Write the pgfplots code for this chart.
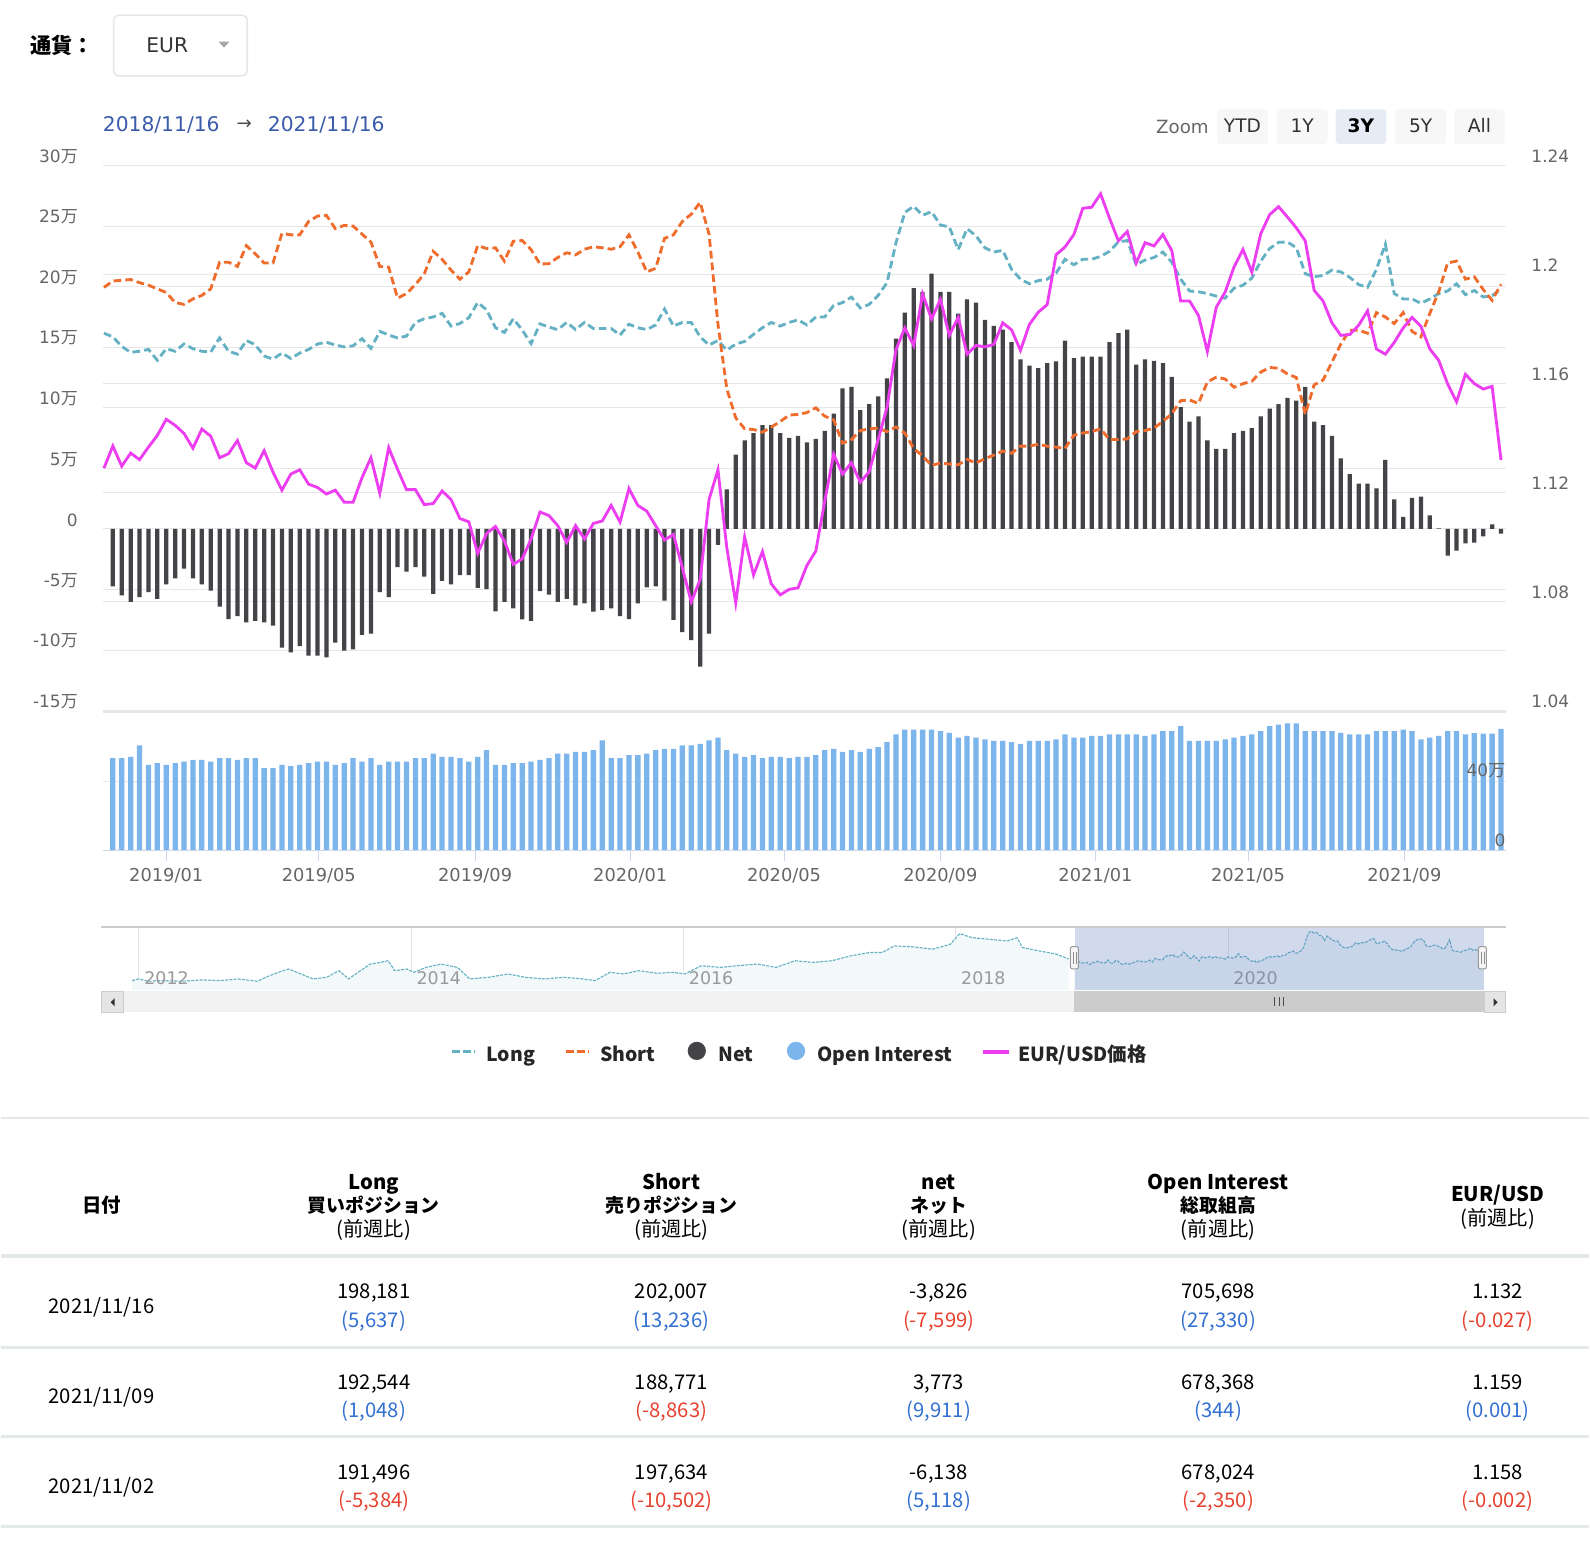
\documentclass[border=0pt]{standalone}
\usepackage{fontspec}
\setmainfont{DejaVu Sans}
\newfontfamily\cjk{Noto Sans CJK JP}
\usepackage{pgfplots}
\usepackage{pgfplotstable}
\pgfplotsset{compat=1.18}

\definecolor{gridc}{HTML}{E6E6E6}
\definecolor{txtgray}{HTML}{666666}
\definecolor{netc}{HTML}{434348}
\definecolor{oic}{HTML}{7CB5EC}
\definecolor{longc}{HTML}{63B1C3}
\definecolor{shortc}{HTML}{EF6C2C}
\definecolor{eurc}{HTML}{EC3DF0}
\definecolor{datec}{HTML}{3B5CAB}
\definecolor{axisc}{HTML}{CCD6EB}
\definecolor{navmask}{HTML}{6685C2}
\definecolor{navfill}{HTML}{F3F8FA}
\definecolor{tabline}{HTML}{E3E8EA}
\definecolor{selbg}{HTML}{E6EBF5}
\definecolor{upc}{HTML}{3270D2}
\definecolor{downc}{HTML}{E8412F}

\newcommand\fs[1]{\fontsize{#1}{#1}\selectfont}
\newcommand\man{{\cjk 万}}

% weekly COT data, d = days after 2018/11/16
\pgfplotstableread{
d long short net oi eur
-3 161600 199400 nan nan 1.1290
4 158600 204700 -47300 535000 1.1371
11 150600 205300 -54800 535000 1.1297
18 145800 205900 -60100 543000 1.1345
25 146700 203300 -56200 609000 1.1321
32 148200 201200 -52100 497000 1.1367
39 139300 198200 -57700 506000 1.1410
46 148800 195200 -45800 497000 1.1469
53 146700 186900 -40800 506000 1.1447
60 152700 185400 -32700 516000 1.1417
67 148800 189900 -40800 526000 1.1363
74 146700 192800 -45800 526000 1.1433
81 146100 198200 -50900 516000 1.1407
88 157700 220200 -64000 535000 1.1328
95 146700 220200 -74400 535000 1.1343
102 144300 216700 -72000 526000 1.1391
109 155600 233900 -77100 535000 1.1310
116 152100 227100 -75900 535000 1.1290
123 142800 219600 -77100 477000 1.1354
130 140200 219600 -79800 477000 1.1275
137 145200 244000 -97900 497000 1.1209
144 140800 242800 -101800 489000 1.1268
151 145200 242800 -96700 497000 1.1284
158 148200 253900 -104500 506000 1.1231
165 152700 258300 -104500 516000 1.1219
172 154200 258900 -106000 516000 1.1195
179 151800 247900 -93800 497000 1.1209
186 150300 250600 -100300 506000 1.1165
193 151200 250000 -99400 535000 1.1165
200 157100 243400 -87500 516000 1.1255
207 149100 236900 -86300 535000 1.1328
214 163100 216700 -52100 497000 1.1198
221 160100 216100 -56200 516000 1.1365
228 157700 190500 -31500 516000 1.1285
235 159200 194300 -35100 516000 1.1211
242 170500 201800 -31500 535000 1.1211
249 173500 210700 -39300 535000 1.1156
256 175000 229200 -53600 562000 1.1160
263 178000 222600 -42900 543000 1.1206
270 167500 213700 -45800 543000 1.1175
277 169600 206200 -38100 535000 1.1105
284 174400 212200 -38100 516000 1.1093
291 186900 233900 -48500 543000 1.0977
298 180900 231500 -49700 582000 1.1050
305 166100 232100 -67900 497000 1.1076
312 162200 221100 -60100 497000 1.1023
319 173500 237500 -65500 506000 1.0937
326 164300 238100 -74700 506000 1.0957
333 153000 230600 -75900 516000 1.1030
340 169300 218700 -51200 526000 1.1129
347 166700 219000 -54200 535000 1.1116
354 164600 224100 -60100 562000 1.1079
361 170500 228000 -57700 562000 1.1017
368 164600 226200 -63100 572000 1.1079
375 170500 230900 -61300 572000 1.1030
382 165500 233000 -68200 582000 1.1087
389 165500 232100 -67000 638000 1.1096
396 165500 230900 -65500 535000 1.1153
403 160100 233000 -72000 535000 1.1092
410 169000 242800 -74400 553000 1.1215
417 166100 228600 -61300 553000 1.1153
424 164600 212200 -48200 562000 1.1132
431 168400 215200 -47300 582000 1.1079
438 181500 239900 -59200 589000 1.1026
445 167500 242800 -75000 589000 1.1047
452 170500 253900 -85100 609000 1.0924
459 170500 259800 -91700 609000 1.0799
466 158600 269600 -113700 618000 1.0881
473 151800 243400 -86300 638000 1.1175
480 155600 169000 -13100 655000 1.1284
487 147600 115500 32700 582000 1.0997
494 152700 91700 61300 562000 1.0795
501 154800 82700 73200 543000 1.1037
508 160700 82100 79200 553000 1.0898
515 166100 79800 85700 535000 1.0984
522 170500 84200 85700 543000 1.0865
529 167500 88700 79200 543000 1.0825
536 170500 94000 75300 535000 1.0845
543 172600 94600 76800 543000 1.0851
550 168400 96100 71400 543000 1.0933
557 175000 100000 74400 553000 1.0986
564 175000 93100 81000 582000 1.1169
571 184500 90200 95200 589000 1.1341
578 186900 70800 116100 572000 1.1268
585 191400 73800 117300 582000 1.1310
592 182400 81200 98200 572000 1.1238
599 185400 82700 103000 589000 1.1277
606 192800 83300 109500 599000 1.1394
613 203300 80400 124400 628000 1.1513
620 236000 84200 157100 674000 1.1724
627 261300 79200 178600 701000 1.1804
634 266400 66400 198800 701000 1.1740
641 258900 60400 195800 701000 1.1929
648 261900 52400 210700 701000 1.1837
655 250900 54500 195800 692000 1.1909
662 249400 53600 195800 682000 1.1777
669 230600 53000 177700 655000 1.1843
676 247900 57400 189600 665000 1.1708
683 241900 54500 186900 655000 1.1740
690 232100 58000 172600 645000 1.1735
697 228600 61000 167600 636000 1.1744
704 230000 64300 164600 636000 1.1823
711 214300 62500 154200 628000 1.1797
718 206200 68400 139900 618000 1.1722
725 202400 68400 134800 636000 1.1817
732 205000 69900 132700 636000 1.1862
739 206200 68400 136900 636000 1.1890
746 211300 67600 138400 645000 1.2073
753 222600 66400 155400 674000 1.2101
760 218100 77400 141100 655000 1.2147
767 222600 79200 142300 655000 1.2243
774 222600 80400 142300 665000 1.2247
781 225000 82700 142300 665000 1.2296
788 229200 73800 154200 674000 1.2207
795 236900 73800 161600 674000 1.2124
802 238100 74400 164600 674000 1.2158
809 218100 80400 135700 674000 1.2042
816 222000 81200 139900 665000 1.2117
823 224100 83300 138700 674000 1.2105
830 228600 88700 136900 692000 1.2147
837 220200 95200 125600 692000 1.2088
844 206200 105900 100600 721000 1.1903
851 196400 106500 88700 636000 1.1903
858 195800 103600 92900 636000 1.1850
865 194300 121400 73200 636000 1.1718
872 192200 125300 66100 636000 1.1880
879 190500 123800 66100 645000 1.1936
886 198800 117000 79200 655000 1.2028
893 201200 119900 81000 665000 1.2092
900 207100 122000 83300 674000 1.2009
907 221100 129500 92900 692000 1.2150
914 231500 133300 99400 721000 1.2220
921 236600 132700 103000 730000 1.2249
928 236900 128000 108300 738000 1.2211
935 232100 125000 106000 738000 1.2171
942 210700 94600 117300 692000 1.2124
949 208300 119000 88700 692000 1.1942
956 209200 122900 85700 692000 1.1903
963 213700 137800 76800 692000 1.1823
970 212200 152700 58300 682000 1.1777
977 207700 164000 45200 674000 1.1780
984 201800 164000 37500 674000 1.1814
991 199400 161600 37500 674000 1.1867
998 214300 178600 33600 692000 1.1727
1005 235100 175000 57100 692000 1.1708
1012 194300 169600 24400 692000 1.1751
1019 189900 178600 10100 701000 1.1804
1026 189900 163100 25600 692000 1.1843
1033 186300 158600 26800 645000 1.1810
1040 189900 178000 11300 655000 1.1727
1047 194300 195800 600 665000 1.1685
1054 196400 219600 -22000 692000 1.1599
1061 202400 221100 -17900 692000 1.1533
1068 193400 206200 -11900 674000 1.1634
1075 196880 208136 -11256 680374 1.160
1082 191496 197634 -6138 678024 1.158
1089 192544 188771 3773 678368 1.159
1096 198181 202007 -3826 705698 1.132
}\cotdata

% navigator history of Long before the zoomed range (t in years)
\pgfplotstableread{
t long
2011.95 79300
2012.00 85600
2012.07 76800
2012.18 79300
2012.32 76800
2012.46 81800
2012.60 79300
2012.73 85600
2012.87 76800
2012.96 98100
2013.06 116900
2013.10 123200
2013.19 104400
2013.28 85600
2013.38 91800
2013.47 116900
2013.54 85600
2013.61 110600
2013.70 142000
2013.77 148000
2013.83 154500
2013.88 116900
2013.97 123200
2014.02 110600
2014.11 129400
2014.22 142000
2014.34 129400
2014.43 85600
2014.57 91800
2014.71 104400
2014.84 91800
2014.98 85600
2015.12 91800
2015.26 85600
2015.35 79300
2015.46 110600
2015.56 104400
2015.67 116900
2015.81 106900
2015.92 110600
2016.01 104400
2016.13 135700
2016.27 129400
2016.40 135700
2016.54 142000
2016.68 129400
2016.82 154500
2016.95 148200
2017.09 154500
2017.23 173300
2017.37 185800
2017.46 185800
2017.55 210900
2017.69 207100
2017.83 198300
2017.96 217100
2018.03 257200
2018.12 242000
2018.24 236000
2018.38 229700
2018.45 242000
2018.49 204600
2018.61 192100
2018.74 179500
2018.83 160700
}\navdata

\begin{document}
\begin{tikzpicture}
\begin{scope}[x=0.5pt,y=-0.5pt]
\path[use as bounding box, fill=white] (0,0) rectangle (1568,1525);
% currency selector
\node[anchor=west, inner sep=0pt, font=\cjk\bfseries\fs{10.5}] at (28,45) {通貨：};
\draw[tabline, line width=0.8pt, rounded corners=2.5pt] (111,15) rectangle (243,75);
\node[anchor=west, inner sep=0pt, font=\fs{10}, text=black!80] at (143,45) {EUR};
\fill[black!35] (214.5,41) -- (225.5,41) -- (220,47) -- cycle;
% range
\node[anchor=west, inner sep=0pt, font=\fs{10}, text=datec] at (100,123) {2018/11/16};
\node[inner sep=0pt, font=\fs{9}, text=black!70] at (240,123) {→};
\node[anchor=west, inner sep=0pt, font=\fs{10}, text=datec] at (263,123) {2021/11/16};
% zoom buttons
\node[anchor=east, inner sep=0pt, font=\fs{9}, text=txtgray] at (1193,125) {Zoom};
\foreach \bx/\bl in {1201/YTD,1260/1Y,1377/5Y,1435/All}{
  \fill[black!3, rounded corners=1.5pt] (\bx,108) rectangle (\bx+50,142);
  \node[inner sep=0pt, font=\fs{9.2}, text=black!80] at (\bx+25,124) {\bl};
}
\fill[selbg, rounded corners=1.5pt] (1318,108) rectangle (1368,142);
\node[inner sep=0pt, font=\bfseries\fs{9.2}] at (1343,124) {3Y};
\end{scope}

% right axis grid and labels
\begin{axis}[at={(50pt,-351pt)}, anchor=south west, scale only axis,
  width=693pt, height=269.25pt,
  xmin=-4.14, xmax=1099.7, ymin=1.04, ymax=1.24,
  axis line style={draw=none}, xtick=\empty, major tick length=0pt,
  ytick={1.04,1.08,1.12,1.16,1.2,1.24},
  yticklabels={1.04,1.08,1.12,1.16,1.2,1.24},
  yticklabel pos=right, ymajorgrids, grid style={gridc, line width=0.5pt},
  yticklabel style={font=\fs{8.4}, text=txtgray, anchor=west, inner sep=0pt, xshift=12.5pt, yshift=4.5pt}]
\end{axis}

% left axis: positions
\begin{axis}[at={(50pt,-351pt)}, anchor=south west, scale only axis,
  width=693pt, height=269.25pt,
  xmin=-4.14, xmax=1099.7, ymin=-150000, ymax=300000,
  axis line style={draw=none}, xtick=\empty, major tick length=0pt,
  scaled y ticks=false,
  ytick={-150000,-100000,-50000,0,50000,100000,150000,200000,250000,300000},
  yticklabels={-15\man,-10\man,-5\man,0,5\man,10\man,15\man,20\man,25\man,30\man},
  ymajorgrids, grid style={gridc, line width=0.5pt},
  yticklabel style={font=\fs{8.4}, text=txtgray, anchor=east, inner sep=0pt, xshift=-12pt, yshift=4.5pt}]
\addplot[ybar, bar width=2.1pt, fill=netc, draw=none] table[x=d, y=net] {\cotdata};
\addplot[longc, line width=1.4pt, dash pattern=on 3.8pt off 2pt, mark=none] table[x=d, y=long] {\cotdata};
\addplot[shortc, line width=1.4pt, dash pattern=on 3.8pt off 2pt, mark=none] table[x=d, y=short] {\cotdata};
\end{axis}

% EUR/USD line
\begin{axis}[at={(50pt,-351pt)}, anchor=south west, scale only axis,
  width=693pt, height=269.25pt, hide axis,
  xmin=-4.14, xmax=1099.7, ymin=1.04, ymax=1.24]
\addplot[eurc, line width=1.4pt, mark=none] table[x=d, y=eur] {\cotdata};
\end{axis}

% open interest pane
\begin{axis}[at={(50pt,-420pt)}, anchor=south west, scale only axis,
  width=693pt, height=68.5pt,
  xmin=-4.14, xmax=1099.7, ymin=0, ymax=805000,
  axis line style={draw=none}, scaled y ticks=false,
  xtick pos=bottom, tick align=outside, major tick length=5pt,
  xtick style={draw=axisc, line width=0.5pt}, ytick style={draw=none},
  xtick={46,166,289,411,532,655,777,897,1020},
  xticklabels={2019/01,2019/05,2019/09,2020/01,2020/05,2020/09,2021/01,2021/05,2021/09},
  xticklabel style={font=\fs{8.8}, text=txtgray, inner sep=0pt, yshift=-3.5pt},
  ytick={0,400000}, yticklabels={}, ymajorgrids, grid style={gridc, line width=0.5pt}]
\addplot[ybar, bar width=2.6pt, fill=oic, draw=none] table[x=d, y=oi] {\cotdata};
\node[anchor=south east, inner sep=0pt, yshift=1.5pt, font=\fs{8.4}, text=txtgray] at (axis cs:1099.7,400000) {40\man};
\node[anchor=south east, inner sep=0pt, yshift=1.5pt, font=\fs{8.4}, text=txtgray] at (axis cs:1099.7,0) {0};
\end{axis}

% navigator
\begin{axis}[at={(49.5pt,-489pt)}, anchor=south west, scale only axis,
  width=693.5pt, height=31pt,
  xmin=2011.725, xmax=2022.04, ymin=43000, ymax=281000,
  axis line style={draw=none}, ytick=\empty, major tick length=0pt,
  xtick={2012,2014,2016,2018,2020}, xticklabels={},
  xmajorgrids, grid style={gridc, line width=0.5pt}]
\addplot[draw=none, fill=navfill] table[x=t, y=long] {\navdata} \closedcycle;
\addplot[draw=none, fill=navfill] table[x expr=2018.8767+\thisrow{d}/365.25, y=long] {\cotdata} \closedcycle;
\addplot[longc, line width=0.55pt, dash pattern=on 1.5pt off 0.6pt, mark=none] table[x=t, y=long] {\navdata};
\addplot[longc, line width=0.55pt, dash pattern=on 1.5pt off 0.6pt, mark=none] table[x expr=2018.8767+\thisrow{d}/365.25, y=long] {\cotdata};
\node[anchor=base west, inner sep=0pt, xshift=2.5pt, yshift=3pt, font=\fs{8.6}, text=black!40] at (axis cs:2012,43000) {2012};
\node[anchor=base west, inner sep=0pt, xshift=2.5pt, yshift=3pt, font=\fs{8.6}, text=black!40] at (axis cs:2014,43000) {2014};
\node[anchor=base west, inner sep=0pt, xshift=2.5pt, yshift=3pt, font=\fs{8.6}, text=black!40] at (axis cs:2016,43000) {2016};
\node[anchor=base west, inner sep=0pt, xshift=2.5pt, yshift=3pt, font=\fs{8.6}, text=black!40] at (axis cs:2018,43000) {2018};
\node[anchor=base west, inner sep=0pt, xshift=2.5pt, yshift=3pt, font=\fs{8.6}, text=black!40] at (axis cs:2020,43000) {2020};
\fill[navmask, fill opacity=0.3] (axis cs:2018.877,43000) rectangle (axis cs:2021.877,281000);
\end{axis}

\begin{scope}[x=0.5pt,y=-0.5pt]
% pane separator and x axis line
\draw[gridc, line width=1.5pt] (100,703) -- (1486,703);
\draw[axisc, line width=0.5pt] (100,840) -- (1486,840);
% navigator outline, handles, scrollbar
\draw[black!20, line width=1pt] (99,915.5) -- (1486,915.5);
\foreach \hx in {1060,1463}{
  \draw[black!40, fill=black!4, line width=0.5pt, rounded corners=1pt] (\hx-4,935) rectangle (\hx+4,957);
  \draw[black!45, line width=0.4pt] (\hx-1.5,940) -- (\hx-1.5,952) (\hx+1.5,940) -- (\hx+1.5,952);
}
\fill[black!5] (99,979) rectangle (1486,1000);
\fill[black!20] (1060,979) rectangle (1465,1000);
\draw[black!70, line width=0.4pt] (1258,985) -- (1258,994) (1262,985) -- (1262,994) (1266,985) -- (1266,994);
\draw[black!20, fill=black!10, line width=0.5pt] (99,979) rectangle (121,1000);
\draw[black!20, fill=black!10, line width=0.5pt] (1465,979) rectangle (1486,1000);
\fill[black!80] (112,986) -- (112,994) -- (108,990) -- cycle;
\fill[black!80] (1474,986) -- (1474,994) -- (1478,990) -- cycle;
% legend
\begin{scope}[every node/.style={anchor=base west, inner sep=0pt, font=\cjk\bfseries\fs{9.6}, text=black!85}]
\draw[longc, line width=1.4pt, dash pattern=on 4pt off 1.5pt] (445,1039) -- (468,1039);
\node at (479,1048) {Long};
\draw[shortc, line width=1.4pt, dash pattern=on 4pt off 1.5pt] (558,1039) -- (581,1039);
\node at (591,1048) {Short};
\fill[netc] (687,1038) circle (9);
\node at (708,1048) {Net};
\fill[oic] (785,1038) circle (9);
\node at (806,1048) {Open Interest};
\draw[eurc, line width=1.6pt] (970,1039) -- (995,1039);
\node at (1004,1048) {EUR/USD価格};
\end{scope}
% table
\draw[tabline, line width=1pt] (0,1104) -- (1568,1104);
\fill[tabline] (0,1239) rectangle (1568,1243);
\foreach \ly in {1331,1419,1508}{ \draw[tabline, line width=1.25pt] (0,\ly) -- (1568,\ly); }
\begin{scope}[every node/.style={anchor=base, inner sep=0pt, font=\cjk\fs{10}}]
\node[font=\cjk\bfseries\fs{9.6}] at (99,1198) {日付};
\foreach \cx/\ta/\tb in {368/Long/買いポジション,662/Short/売りポジション,926/net/ネット,1202/Open Interest/総取組高}{
  \node[font=\cjk\bfseries\fs{10}] at (\cx,1175) {\ta};
  \node[font=\cjk\bfseries\fs{9.3}] at (\cx,1198) {\tb};
  \node at (\cx,1221) {(前週比)};
}
\node[font=\cjk\bfseries\fs{10}] at (1478,1187) {EUR/USD};
\node at (1478,1210) {(前週比)};
% rows
\node at (99,1297) {2021/11/16};
\node at (99,1386) {2021/11/09};
\node at (99,1475) {2021/11/02};
\node at (368,1283) {198,181}; \node[text=upc] at (368,1311) {(5,637)};
\node at (662,1283) {202,007}; \node[text=upc] at (662,1311) {(13,236)};
\node at (926,1283) {-3,826}; \node[text=downc] at (926,1311) {(-7,599)};
\node at (1202,1283) {705,698}; \node[text=upc] at (1202,1311) {(27,330)};
\node at (1478,1283) {1.132}; \node[text=downc] at (1478,1311) {(-0.027)};
\node at (368,1372) {192,544}; \node[text=upc] at (368,1400) {(1,048)};
\node at (662,1372) {188,771}; \node[text=downc] at (662,1400) {(-8,863)};
\node at (926,1372) {3,773}; \node[text=upc] at (926,1400) {(9,911)};
\node at (1202,1372) {678,368}; \node[text=upc] at (1202,1400) {(344)};
\node at (1478,1372) {1.159}; \node[text=upc] at (1478,1400) {(0.001)};
\node at (368,1461) {191,496}; \node[text=downc] at (368,1489) {(-5,384)};
\node at (662,1461) {197,634}; \node[text=downc] at (662,1489) {(-10,502)};
\node at (926,1461) {-6,138}; \node[text=upc] at (926,1489) {(5,118)};
\node at (1202,1461) {678,024}; \node[text=downc] at (1202,1489) {(-2,350)};
\node at (1478,1461) {1.158}; \node[text=downc] at (1478,1489) {(-0.002)};
\end{scope}
\end{scope}
\end{tikzpicture}
\end{document}
